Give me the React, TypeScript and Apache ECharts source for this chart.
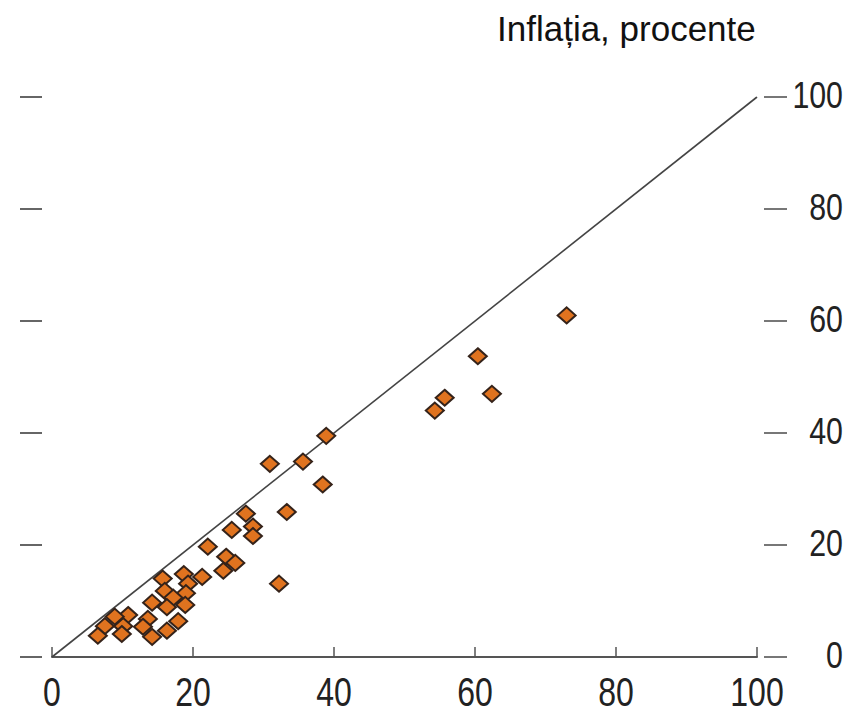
import React, { useEffect, useRef } from "react";
import * as echarts from "echarts";

const titleText = "Inflația, procente";
const xTicks = [0, 20, 40, 60, 80, 100];
const yTicks = [0, 20, 40, 60, 80, 100];
const diagonal: [number, number][] = [
  [0, 0],
  [100, 100],
];
const pointsX = [
  73.0, 60.4, 62.4, 55.7, 54.3, 38.9, 30.9, 35.6, 38.4, 33.3, 27.5, 28.5, 25.5, 28.5, 22.1, 32.2, 24.7, 26.0, 24.3, 21.3,
  18.7, 15.7, 19.3, 16.0, 19.0, 17.2, 14.2, 18.9, 16.3, 10.8, 13.6, 17.9, 7.5, 10.1, 12.9, 16.3, 6.5, 14.2, 9.9, 8.9,
];
const pointsY = [
  61.0, 53.7, 47.0, 46.3, 44.0, 39.5, 34.5, 34.9, 30.8, 25.9, 25.6, 23.3, 22.7, 21.6, 19.7, 13.1, 17.9, 16.8, 15.4, 14.3,
  14.8, 14.0, 13.1, 11.8, 11.4, 10.6, 9.7, 9.3, 8.9, 7.5, 6.8, 6.4, 5.5, 5.5, 5.4, 4.7, 3.8, 3.6, 4.1, 7.2,
];

const sans = "'Liberation Sans', Arial, sans-serif";

export default function App() {
  const ref = useRef<HTMLDivElement>(null);
  useEffect(() => {
    if (!ref.current) return;
    const chart = echarts.init(ref.current, null, { renderer: "svg" });
    const pts = pointsX.map((x, i) => [x, pointsY[i]]);
    chart.setOption({
      animation: false,
      backgroundColor: "#ffffff",
      grid: { left: 52, right: 104, top: 97, bottom: 59, containLabel: false },
      xAxis: {
        type: "value",
        min: 0,
        max: 100,
        interval: 20,
        splitLine: { show: false },
        axisLine: { show: true, onZero: false, lineStyle: { color: "#555555", width: 2 } },
        axisTick: { show: true, inside: true, length: 10, lineStyle: { color: "#555555", width: 1.5 } },
        axisLabel: { show: false },
      },
      yAxis: [
        {
          type: "value",
          position: "right",
          min: 0,
          max: 100,
          interval: 20,
          offset: 7,
          splitLine: { show: false },
          axisLine: { show: false, onZero: false },
          axisTick: { show: true, length: 23, lineStyle: { color: "#777777", width: 2 } },
          axisLabel: { show: false },
        },
        {
          type: "value",
          position: "left",
          min: 0,
          max: 100,
          interval: 20,
          offset: 10,
          splitLine: { show: false },
          axisLine: { show: false, onZero: false },
          axisTick: { show: true, length: 22, lineStyle: { color: "#666666", width: 2 } },
          axisLabel: { show: false },
        },
      ],
      series: [
        {
          type: "line",
          data: diagonal,
          symbol: "none",
          lineStyle: { color: "#444444", width: 1.6 },
          silent: true,
          z: 1,
        },
        {
          type: "scatter",
          data: pts,
          symbol: "diamond",
          symbolSize: [18, 16],
          itemStyle: { color: "#E0731F", borderColor: "#35231a", borderWidth: 2, opacity: 1 },
          z: 2,
        },
      ],
    });

    const y0 = chart.convertToPixel({ yAxisIndex: 0 }, 0) as number;
    const graphics: any[] = [
      {
        type: "text",
        x: 497,
        y: 28,
        style: {
          text: titleText,
          fontSize: 35,
          fontFamily: sans,
          fill: "#111111",
          verticalAlign: "middle",
        },
      },
    ];
    xTicks.forEach((v) => {
      const px = chart.convertToPixel({ xAxisIndex: 0 }, v) as number;
      graphics.push({
        type: "text",
        x: px,
        y: y0 + 35,
        scaleX: 0.8,
        style: {
          text: String(v),
          fontSize: 40,
          fontFamily: sans,
          fill: "#222222",
          align: "center",
          verticalAlign: "middle",
        },
      });
    });
    yTicks.forEach((v) => {
      const py = chart.convertToPixel({ yAxisIndex: 0 }, v) as number;
      graphics.push({
        type: "text",
        x: 843,
        y: py - 2,
        scaleX: 0.82,
        style: {
          text: String(v),
          fontSize: 37,
          fontFamily: sans,
          fill: "#222222",
          align: "right",
          verticalAlign: "middle",
        },
      });
    });
    chart.setOption({ graphic: graphics });
    return () => chart.dispose();
  }, []);
  return <div ref={ref} style={{ position: "absolute", left: 0, top: 0, width: 861, height: 716 }} />;
}
